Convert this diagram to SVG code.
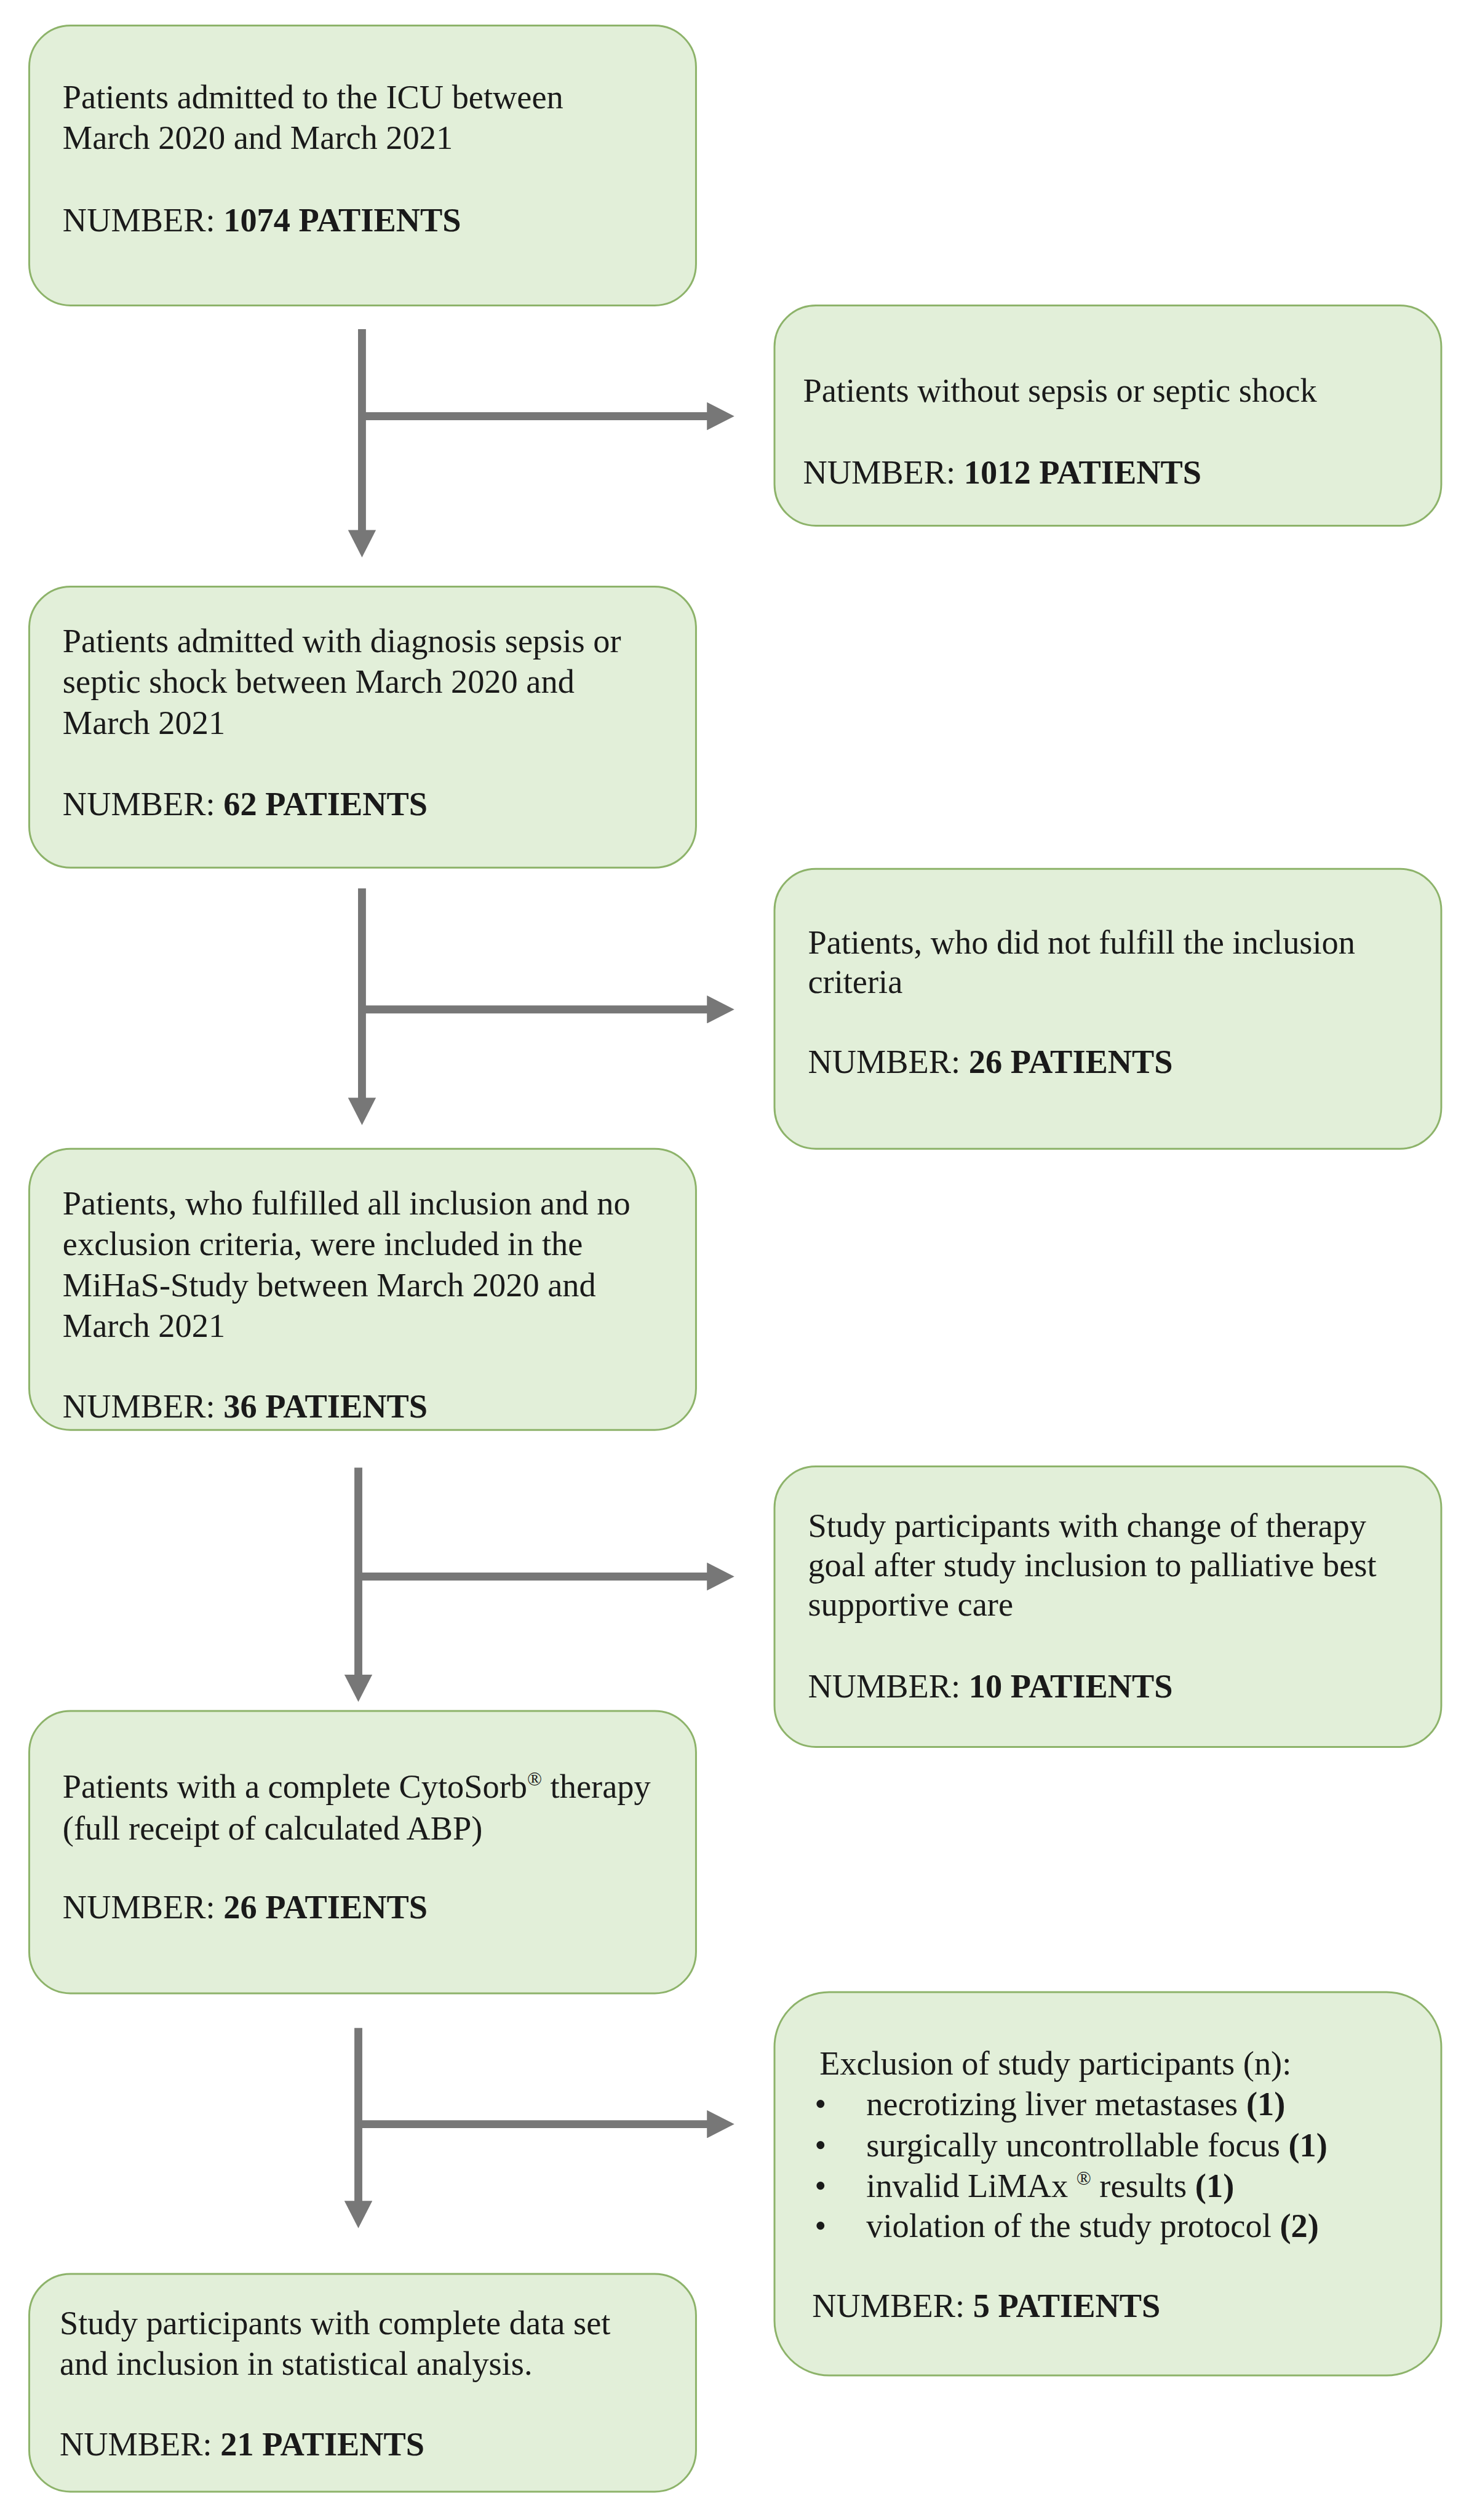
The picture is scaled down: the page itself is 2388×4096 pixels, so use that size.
<svg xmlns="http://www.w3.org/2000/svg" width="2388" height="4096" viewBox="0 0 2388 4096">
<style>
.box{fill:#E2EFD9;stroke:#8DB36A;stroke-width:3}
.t{font-family:"Liberation Serif","Times New Roman",serif;font-size:55px;fill:#1a1a1a}
.b{font-weight:bold}
.sup{font-size:32px}
.conn{stroke:#777777;stroke-width:13;fill:none}
</style>
<defs>
<marker id="ah" viewBox="0 0 45 46" refX="5" refY="23" markerWidth="45" markerHeight="46" markerUnits="userSpaceOnUse" orient="auto">
<path d="M0,0 L45,23 L0,46 z" fill="#777777"/>
</marker>
</defs>
<rect width="2388" height="4096" fill="#ffffff"/>
<g transform="scale(0.989)">
<g id="connectors">
<path class="conn" d="M595,541 V876" marker-end="url(#ah)"/>
<path class="conn" d="M595,684 H1167" marker-end="url(#ah)"/>
<path class="conn" d="M595,1460 V1809" marker-end="url(#ah)"/>
<path class="conn" d="M595,1659 H1167" marker-end="url(#ah)"/>
<path class="conn" d="M589,2412 V2757" marker-end="url(#ah)"/>
<path class="conn" d="M589,2591 H1167" marker-end="url(#ah)"/>
<path class="conn" d="M589,3333 V3622" marker-end="url(#ah)"/>
<path class="conn" d="M589,3491 H1167" marker-end="url(#ah)"/>
</g>
<g id="n1">
<rect class="box" x="48" y="42" width="1096" height="460" rx="68"/>
<text class="t" x="103" y="178">Patients admitted to the ICU between</text>
<text class="t" x="103" y="245">March 2020 and March 2021</text>
<text class="t" x="103" y="380">NUMBER: <tspan class="b">1074 PATIENTS</tspan></text>
</g>
<g id="n2">
<rect class="box" x="1273" y="502" width="1096" height="362" rx="68"/>
<text class="t" x="1320" y="660">Patients without sepsis or septic shock</text>
<text class="t" x="1320" y="795">NUMBER: <tspan class="b">1012 PATIENTS</tspan></text>
</g>
<g id="n3">
<rect class="box" x="48" y="964" width="1096" height="462" rx="68"/>
<text class="t" x="103" y="1072">Patients admitted with diagnosis sepsis or</text>
<text class="t" x="103" y="1139">septic shock between March 2020 and</text>
<text class="t" x="103" y="1206">March 2021</text>
<text class="t" x="103" y="1340">NUMBER: <tspan class="b">62 PATIENTS</tspan></text>
</g>
<g id="n4">
<rect class="box" x="1273" y="1428" width="1096" height="460" rx="68"/>
<text class="t" x="1328" y="1567">Patients, who did not fulfill the inclusion</text>
<text class="t" x="1328" y="1632">criteria</text>
<text class="t" x="1328" y="1763">NUMBER: <tspan class="b">26 PATIENTS</tspan></text>
</g>
<g id="n5">
<rect class="box" x="48" y="1888" width="1096" height="462" rx="68"/>
<text class="t" x="103" y="1996">Patients, who fulfilled all inclusion and no</text>
<text class="t" x="103" y="2063">exclusion criteria, were included in the</text>
<text class="t" x="103" y="2130">MiHaS-Study between March 2020 and</text>
<text class="t" x="103" y="2197">March 2021</text>
<text class="t" x="103" y="2330">NUMBER: <tspan class="b">36 PATIENTS</tspan></text>
</g>
<g id="n6">
<rect class="box" x="1273" y="2410" width="1096" height="461" rx="68"/>
<text class="t" x="1328" y="2526">Study participants with change of therapy</text>
<text class="t" x="1328" y="2591">goal after study inclusion to palliative best</text>
<text class="t" x="1328" y="2655">supportive care</text>
<text class="t" x="1328" y="2790">NUMBER: <tspan class="b">10 PATIENTS</tspan></text>
</g>
<g id="n7">
<rect class="box" x="48" y="2812" width="1096" height="464" rx="68"/>
<text class="t" x="103" y="2954">Patients with a complete CytoSorb<tspan class="sup" dy="-20">®</tspan><tspan dy="20"> therapy</tspan></text>
<text class="t" x="103" y="3023">(full receipt of calculated ABP)</text>
<text class="t" x="103" y="3153">NUMBER: <tspan class="b">26 PATIENTS</tspan></text>
</g>
<g id="n8">
<rect class="box" x="1273" y="3274" width="1096" height="630" rx="90"/>
<text class="t" x="1347" y="3409">Exclusion of study participants (n):</text>
<text class="t" x="1339" y="3476">•</text>
<text class="t" x="1424" y="3476">necrotizing liver metastases <tspan class="b">(1)</tspan></text>
<text class="t" x="1339" y="3544">•</text>
<text class="t" x="1424" y="3544">surgically uncontrollable focus <tspan class="b">(1)</tspan></text>
<text class="t" x="1339" y="3611">•</text>
<text class="t" x="1424" y="3611">invalid LiMAx <tspan class="sup" dy="-20">®</tspan><tspan dy="20"> results </tspan><tspan class="b">(1)</tspan></text>
<text class="t" x="1339" y="3676">•</text>
<text class="t" x="1424" y="3676">violation of the study protocol <tspan class="b">(2)</tspan></text>
<text class="t" x="1335" y="3808">NUMBER: <tspan class="b">5 PATIENTS</tspan></text>
</g>
<g id="n9">
<rect class="box" x="48" y="3737" width="1096" height="358" rx="68"/>
<text class="t" x="98" y="3836">Study participants with complete data set</text>
<text class="t" x="98" y="3903">and inclusion in statistical analysis.</text>
<text class="t" x="98" y="4035">NUMBER: <tspan class="b">21 PATIENTS</tspan></text>
</g>
</g>
</svg>
